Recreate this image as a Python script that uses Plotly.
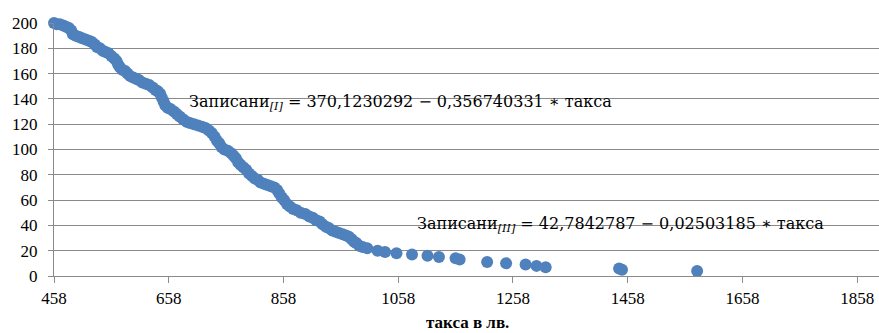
import plotly.graph_objects as go

# Data: fee (такса) vs. enrolled (Записани)
taksa = [458, 463, 468, 474, 479, 484, 488, 491, 496, 502, 507, 513, 519, 524, 529, 533,
         538, 543, 548, 553, 558, 563, 567, 570, 573, 577, 582, 586, 591, 596, 601, 606,
         612, 618, 624, 630, 635, 639, 643, 646, 649, 652, 656, 661, 667, 672, 677, 683,
         689, 695, 702, 709, 716, 722, 728, 733, 738, 742, 746, 750, 755, 761, 767, 771,
         775, 779, 783, 788, 793, 798, 803, 808, 813, 818, 824, 830, 836, 842, 847, 851,
         855, 859, 864, 869, 875, 881, 888, 896, 903, 909, 915, 921, 926, 932, 937, 943,
         949, 955, 961, 967, 972, 977, 981, 985, 990, 996, 1004, 1022, 1035, 1055, 1082,
         1109, 1129, 1158, 1165, 1213, 1246, 1280, 1299, 1315, 1443, 1448, 1579]
zapisani = [200, 199, 199, 198, 197, 196, 194, 191, 190, 189, 188, 187, 186, 185, 183, 181,
            180, 178, 177, 176, 174, 172, 170, 167, 165, 163, 162, 160, 158, 157, 156, 155,
            153, 152, 151, 149, 147, 146, 144, 141, 138, 135, 133, 132, 130, 128, 126, 124,
            122, 121, 120, 119, 118, 117, 115, 113, 110, 107, 105, 102, 100, 99, 97, 95,
            93, 90, 88, 86, 84, 81, 79, 77, 76, 74, 73, 72, 71, 70, 68, 65,
            62, 60, 57, 55, 53, 52, 50, 49, 47, 46, 44, 43, 41, 39, 38, 36,
            35, 34, 33, 32, 31, 29, 27, 26, 24, 23, 22, 20, 19, 18, 17,
            16, 15, 14, 13, 11, 10, 9, 8, 7, 6, 5, 4]

x_ticks = [458, 658, 858, 1058, 1258, 1458, 1658, 1858]
y_ticks = [0, 20, 40, 60, 80, 100, 120, 140, 160, 180, 200]

eq1 = "Записани<sub><i>[I]</i></sub> = 370,1230292 − 0,356740331 ∗ такса"
eq2 = "Записани<sub><i>[II]</i></sub> = 42,7842787 − 0,02503185 ∗ такса"
x_title = "такса в лв."

FONT = "Liberation Serif"
EQFONT = "DejaVu Serif"
GRID = "#8a8a8a"

L, R, T, B = 54, 0, 23, 57
W, H = 879, 333

fig = go.Figure()
fig.add_trace(go.Scatter(
    x=taksa, y=zapisani, mode="markers",
    marker=dict(size=12, color="#4F81BD", line=dict(width=0)),
    cliponaxis=False, showlegend=False,
))

fig.update_layout(
    width=W, height=H,
    margin=dict(l=L, r=R, t=T, b=B, autoexpand=False),
    paper_bgcolor="white", plot_bgcolor="white",
    font=dict(family=FONT, size=17, color="black"),
    xaxis=dict(
        range=[458, 1896], tickvals=x_ticks, ticktext=[str(v) for v in x_ticks],
        showgrid=False, zeroline=False, showline=True, linecolor=GRID, linewidth=1.3,
        ticks="outside", ticklen=6, tickcolor=GRID, tickwidth=1.3, automargin=False,
        tickfont=dict(family=FONT, size=17, color="black"),
    ),
    yaxis=dict(
        range=[0, 200], tickvals=y_ticks, ticktext=[str(v) for v in y_ticks],
        showgrid=True, gridcolor=GRID, gridwidth=1.3, zeroline=False,
        showline=True, linecolor=GRID, linewidth=1.3, automargin=False,
        ticks="outside", ticklen=5, tickcolor=GRID, tickwidth=1.3,
        ticklabelstandoff=7,
        tickfont=dict(family=FONT, size=17, color="black"),
    ),
)

pw = W - L - R
ph = H - T - B


def to_paper(px, py):
    return (px - L) / pw, 1 - (py - T) / ph


for text, px, py, anchor, size, fam in [
    (eq1, 187, 103, "left", 16, EQFONT),
    (eq2, 415, 224, "left", 16, EQFONT),
    ("<b>" + x_title + "</b>", 467, 322, "center", 17, FONT),
]:
    ax, ay = to_paper(px, py)
    fig.add_annotation(text=text, x=ax, y=ay, xref="paper", yref="paper",
                       showarrow=False, xanchor=anchor, yanchor="middle",
                       font=dict(family=fam, size=size, color="black"))

fig.write_html("out.html", config={"displayModeBar": False},
               post_script="document.body.style.margin='0';")
